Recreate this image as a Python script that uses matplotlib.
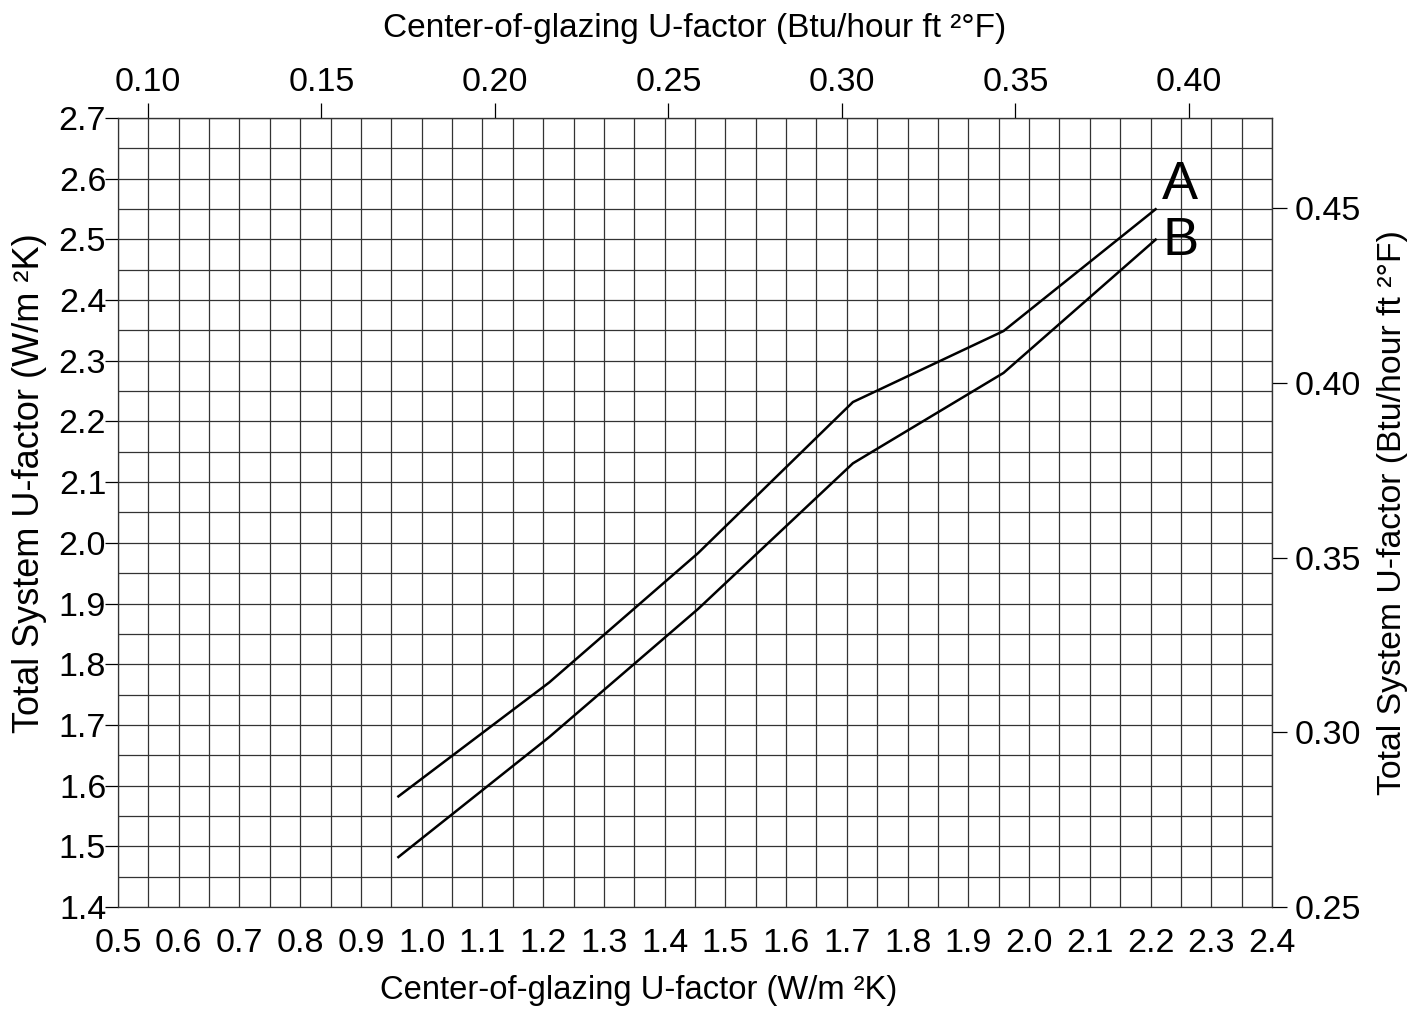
import numpy as np
import matplotlib
matplotlib.use("Agg")
import matplotlib.pyplot as plt

plt.rcParams['font.family'] = ['Liberation Sans', 'DejaVu Sans']

# center-of-glazing U-factor (W/m2K) where the curves bend
x_pts = [0.96, 1.21, 1.455, 1.71, 1.958, 2.21]
# total system U-factor (W/m2K)
y_a = [1.581, 1.770, 1.983, 2.232, 2.349, 2.551]
y_b = [1.481, 1.680, 1.891, 2.131, 2.280, 2.501]

x_ticks = [0.5, 0.6, 0.7, 0.8, 0.9, 1.0, 1.1, 1.2, 1.3, 1.4, 1.5, 1.6, 1.7, 1.8, 1.9, 2.0, 2.1, 2.2, 2.3, 2.4]
y_ticks = [1.4, 1.5, 1.6, 1.7, 1.8, 1.9, 2.0, 2.1, 2.2, 2.3, 2.4, 2.5, 2.6, 2.7]
top_ticks = [0.10, 0.15, 0.20, 0.25, 0.30, 0.35, 0.40]
right_ticks = [0.25, 0.30, 0.35, 0.40, 0.45]

# imperial axes as drawn on the original chart
top_a, top_b = 5.713, -0.0219
right_a, right_b = 5.758, -0.0395

fig = plt.figure(figsize=(14.22, 10.09), dpi=100)
ax = fig.add_axes([118/1422, 1-907/1009, (1272-118)/1422, (907-118)/1009])

ax.set_xlim(0.5, 2.4)
ax.set_ylim(1.4, 2.7)
ax.set_xticks(x_ticks)
ax.set_yticks(y_ticks)
ax.set_xticks(np.arange(0.55, 2.4, 0.1), minor=True)
ax.set_yticks(np.arange(1.45, 2.7, 0.1), minor=True)
ax.set_xticklabels([f"{v:.1f}" for v in x_ticks])
ax.set_yticklabels([f"{v:.1f}" for v in y_ticks])
ax.grid(True, which='both', color='#333333', lw=0.9)
ax.set_axisbelow(True)
ax.tick_params(axis='x', which='both', length=0, pad=15, labelsize=24.5)
ax.tick_params(axis='y', which='major', length=9.5, width=0.9, pad=-1, labelsize=24.5)
ax.tick_params(axis='y', which='minor', length=0)
for s in ax.spines.values():
    s.set_linewidth(0.9)
    s.set_color('#333333')

ax.plot(x_pts, y_a, color='black', lw=1.8, solid_capstyle='butt')
ax.plot(x_pts, y_b, color='black', lw=1.8, solid_capstyle='butt')
ax.text(2.219, 2.548, "A", fontsize=39, ha='left', va='bottom')
ax.text(2.22, 2.456, "B", fontsize=39, ha='left', va='bottom')

top = ax.secondary_xaxis('top', functions=(lambda w: (w - top_b) / top_a,
                                           lambda b: b * top_a + top_b))
top.set_xticks(top_ticks)
top.set_xticklabels([f"{v:.2f}" for v in top_ticks])
top.tick_params(length=10.5, width=0.9, pad=4, labelsize=24.5)

right = ax.secondary_yaxis('right', functions=(lambda w: (w - right_b) / right_a,
                                               lambda b: b * right_a + right_b))
right.set_yticks(right_ticks)
right.set_yticklabels([f"{v:.2f}" for v in right_ticks])
right.tick_params(length=10.5, width=0.9, pad=6, labelsize=24.5)

fig.text(639/1422, 1-990/1009, "Center-of-glazing U-factor (W/m \u00b2K)",
         fontsize=23.6, ha='center', va='center')
fig.text(695/1422, 1-28/1009, "Center-of-glazing U-factor (Btu/hour ft \u00b2\u00b0F)",
         fontsize=24, ha='center', va='center')
fig.text(30/1422, 1-483/1009, "Total System U-factor (W/m \u00b2K)",
         fontsize=26, ha='center', va='center', rotation=90)
fig.text(1393/1422, 1-513/1009, "Total System U-factor (Btu/hour ft \u00b2\u00b0F)",
         fontsize=24.3, ha='center', va='center', rotation=90)

fig.savefig("out.png", dpi=100)
